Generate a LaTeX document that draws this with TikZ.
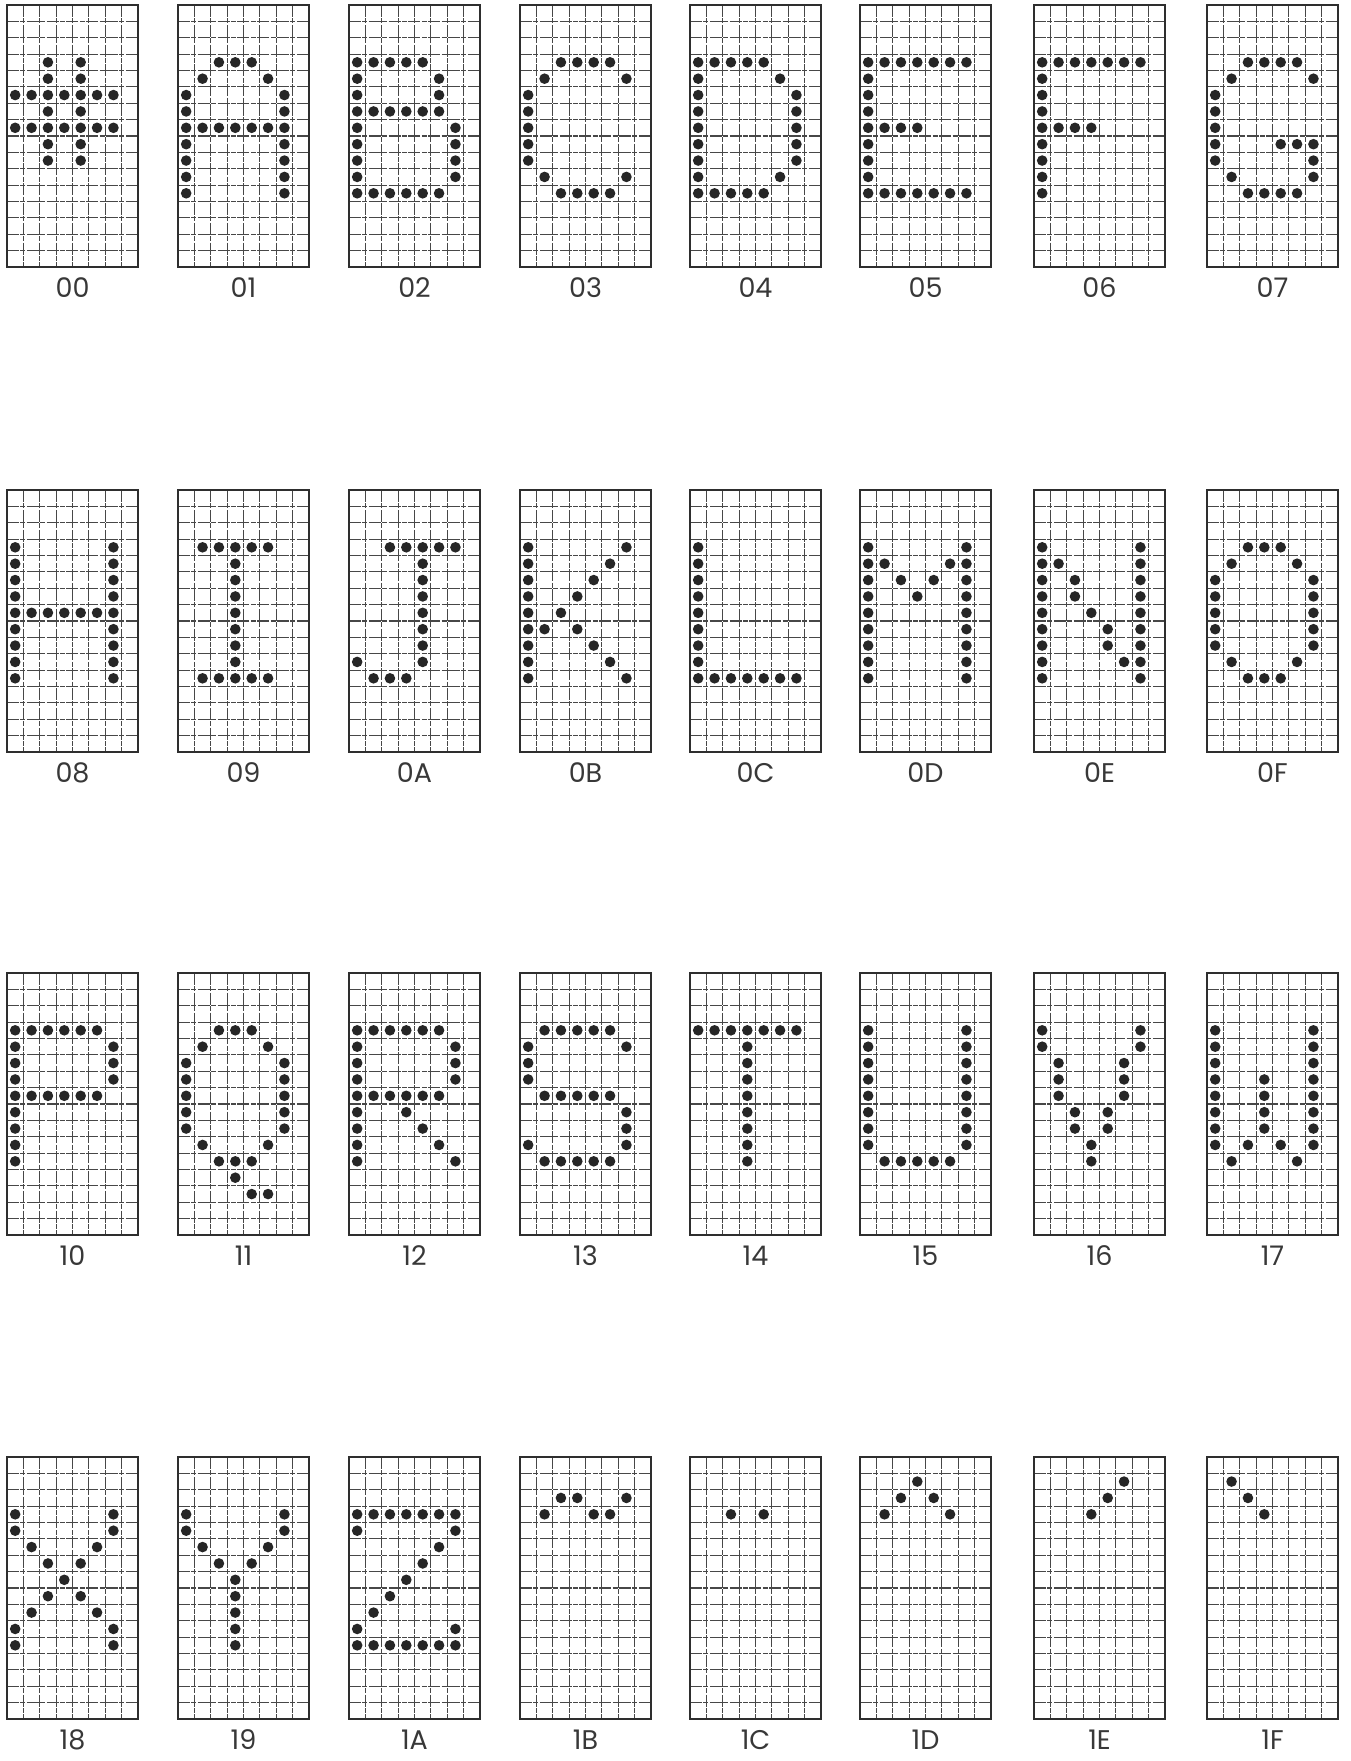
\documentclass[tikz,border=0pt]{standalone}
\usepackage{fontspec}
\setmainfont{Poppins}
\newcommand{\cellsz}{16.375}
\tikzset{
  gridln/.style={draw=black!72, line width=1.15pt, dash pattern=on 12pt off 1.4pt on 5pt off 1.4pt},
  gridbox/.style={draw=black!82, line width=1.7pt},
  dotc/.style={fill=black!85},
  lab/.style={font=\fontsize{27}{30}\selectfont, text=black!78, inner sep=0pt, anchor=center}
}
\newcommand{\chargrid}[4]{%
  \begin{scope}[shift={(#1,#2)}]
    \foreach \i in {1,...,7} \draw[gridln] (\i*\cellsz,0) -- (\i*\cellsz,16*\cellsz);
    \foreach \j in {1,...,15} \draw[gridln] (0,\j*\cellsz) -- (8*\cellsz,\j*\cellsz);
    \draw[gridbox] (0,0) rectangle (8*\cellsz,16*\cellsz);
    \foreach \c/\r in {#4} \fill[dotc] ({(\c+0.5)*\cellsz},{(\r+0.5)*\cellsz}) circle (5.3pt);
    \node[lab] (lab#3) at (4*\cellsz, 16*\cellsz+21) {#3};
  \end{scope}}
\begin{document}
\begin{tikzpicture}[x=1pt, y=-1pt]
\fill[white] (0,0) rectangle (1351,1761);
\useasboundingbox (0,0) rectangle (1351,1761);
% row 1
\chargrid{7}{5}{00}{2/3,4/3,2/4,4/4,0/5,1/5,2/5,3/5,4/5,5/5,6/5,2/6,4/6,0/7,1/7,2/7,3/7,4/7,5/7,6/7,2/8,4/8,2/9,4/9}
\chargrid{178}{5}{01}{2/3,3/3,4/3,1/4,5/4,0/5,6/5,0/6,6/6,0/7,1/7,2/7,3/7,4/7,5/7,6/7,0/8,6/8,0/9,6/9,0/10,6/10,0/11,6/11}
\chargrid{349}{5}{02}{0/3,1/3,2/3,3/3,4/3,0/4,5/4,0/5,5/5,0/6,1/6,2/6,3/6,4/6,5/6,0/7,6/7,0/8,6/8,0/9,6/9,0/10,6/10,0/11,1/11,2/11,3/11,4/11,5/11}
\chargrid{520}{5}{03}{2/3,3/3,4/3,5/3,1/4,6/4,0/5,0/6,0/7,0/8,0/9,1/10,6/10,2/11,3/11,4/11,5/11}
\chargrid{690}{5}{04}{0/3,1/3,2/3,3/3,4/3,0/4,5/4,0/5,6/5,0/6,6/6,0/7,6/7,0/8,6/8,0/9,6/9,0/10,5/10,0/11,1/11,2/11,3/11,4/11}
\chargrid{860}{5}{05}{0/3,1/3,2/3,3/3,4/3,5/3,6/3,0/4,0/5,0/6,0/7,1/7,2/7,3/7,0/8,0/9,0/10,0/11,1/11,2/11,3/11,4/11,5/11,6/11}
\chargrid{1034}{5}{06}{0/3,1/3,2/3,3/3,4/3,5/3,6/3,0/4,0/5,0/6,0/7,1/7,2/7,3/7,0/8,0/9,0/10,0/11}
\chargrid{1207}{5}{07}{2/3,3/3,4/3,5/3,1/4,6/4,0/5,0/6,0/7,0/8,4/8,5/8,6/8,0/9,6/9,1/10,6/10,2/11,3/11,4/11,5/11}
% row 2
\chargrid{7}{490}{08}{0/3,6/3,0/4,6/4,0/5,6/5,0/6,6/6,0/7,1/7,2/7,3/7,4/7,5/7,6/7,0/8,6/8,0/9,6/9,0/10,6/10,0/11,6/11}
\chargrid{178}{490}{09}{1/3,2/3,3/3,4/3,5/3,3/4,3/5,3/6,3/7,3/8,3/9,3/10,1/11,2/11,3/11,4/11,5/11}
\chargrid{349}{490}{0A}{2/3,3/3,4/3,5/3,6/3,4/4,4/5,4/6,4/7,4/8,4/9,0/10,4/10,1/11,2/11,3/11}
\chargrid{520}{490}{0B}{0/3,6/3,0/4,5/4,0/5,4/5,0/6,3/6,0/7,2/7,0/8,1/8,3/8,0/9,4/9,0/10,5/10,0/11,6/11}
\chargrid{690}{490}{0C}{0/3,0/4,0/5,0/6,0/7,0/8,0/9,0/10,0/11,1/11,2/11,3/11,4/11,5/11,6/11}
\chargrid{860}{490}{0D}{0/3,6/3,0/4,1/4,5/4,6/4,0/5,2/5,4/5,6/5,0/6,3/6,6/6,0/7,6/7,0/8,6/8,0/9,6/9,0/10,6/10,0/11,6/11}
\chargrid{1034}{490}{0E}{0/3,6/3,0/4,1/4,6/4,0/5,2/5,6/5,0/6,2/6,6/6,0/7,3/7,6/7,0/8,4/8,6/8,0/9,4/9,6/9,0/10,5/10,6/10,0/11,6/11}
\chargrid{1207}{490}{0F}{2/3,3/3,4/3,1/4,5/4,0/5,6/5,0/6,6/6,0/7,6/7,0/8,6/8,0/9,6/9,1/10,5/10,2/11,3/11,4/11}
% row 3
\chargrid{7}{973}{10}{0/3,1/3,2/3,3/3,4/3,5/3,0/4,6/4,0/5,6/5,0/6,6/6,0/7,1/7,2/7,3/7,4/7,5/7,0/8,0/9,0/10,0/11}
\chargrid{178}{973}{11}{2/3,3/3,4/3,1/4,5/4,0/5,6/5,0/6,6/6,0/7,6/7,0/8,6/8,0/9,6/9,1/10,5/10,2/11,3/11,4/11,3/12,4/13,5/13}
\chargrid{349}{973}{12}{0/3,1/3,2/3,3/3,4/3,5/3,0/4,6/4,0/5,6/5,0/6,6/6,0/7,1/7,2/7,3/7,4/7,5/7,0/8,3/8,0/9,4/9,0/10,5/10,0/11,6/11}
\chargrid{520}{973}{13}{1/3,2/3,3/3,4/3,5/3,0/4,6/4,0/5,0/6,1/7,2/7,3/7,4/7,5/7,6/8,6/9,0/10,6/10,1/11,2/11,3/11,4/11,5/11}
\chargrid{690}{973}{14}{0/3,1/3,2/3,3/3,4/3,5/3,6/3,3/4,3/5,3/6,3/7,3/8,3/9,3/10,3/11}
\chargrid{860}{973}{15}{0/3,6/3,0/4,6/4,0/5,6/5,0/6,6/6,0/7,6/7,0/8,6/8,0/9,6/9,0/10,6/10,1/11,2/11,3/11,4/11,5/11}
\chargrid{1034}{973}{16}{0/3,6/3,0/4,6/4,1/5,5/5,1/6,5/6,1/7,5/7,2/8,4/8,2/9,4/9,3/10,3/11}
\chargrid{1207}{973}{17}{0/3,6/3,0/4,6/4,0/5,6/5,0/6,3/6,6/6,0/7,3/7,6/7,0/8,3/8,6/8,0/9,3/9,6/9,0/10,2/10,4/10,6/10,1/11,5/11}
% row 4
\chargrid{7}{1457}{18}{0/3,6/3,0/4,6/4,1/5,5/5,2/6,4/6,3/7,2/8,4/8,1/9,5/9,0/10,6/10,0/11,6/11}
\chargrid{178}{1457}{19}{0/3,6/3,0/4,6/4,1/5,5/5,2/6,4/6,3/7,3/8,3/9,3/10,3/11}
\chargrid{349}{1457}{1A}{0/3,1/3,2/3,3/3,4/3,5/3,6/3,0/4,6/4,5/5,4/6,3/7,2/8,1/9,0/10,6/10,0/11,1/11,2/11,3/11,4/11,5/11,6/11}
\chargrid{520}{1457}{1B}{2/2,3/2,6/2,1/3,4/3,5/3}
\chargrid{690}{1457}{1C}{2/3,4/3}
\chargrid{860}{1457}{1D}{3/1,2/2,4/2,1/3,5/3}
\chargrid{1034}{1457}{1E}{5/1,4/2,3/3}
\chargrid{1207}{1457}{1F}{1/1,2/2,3/3}
\end{tikzpicture}
\end{document}
